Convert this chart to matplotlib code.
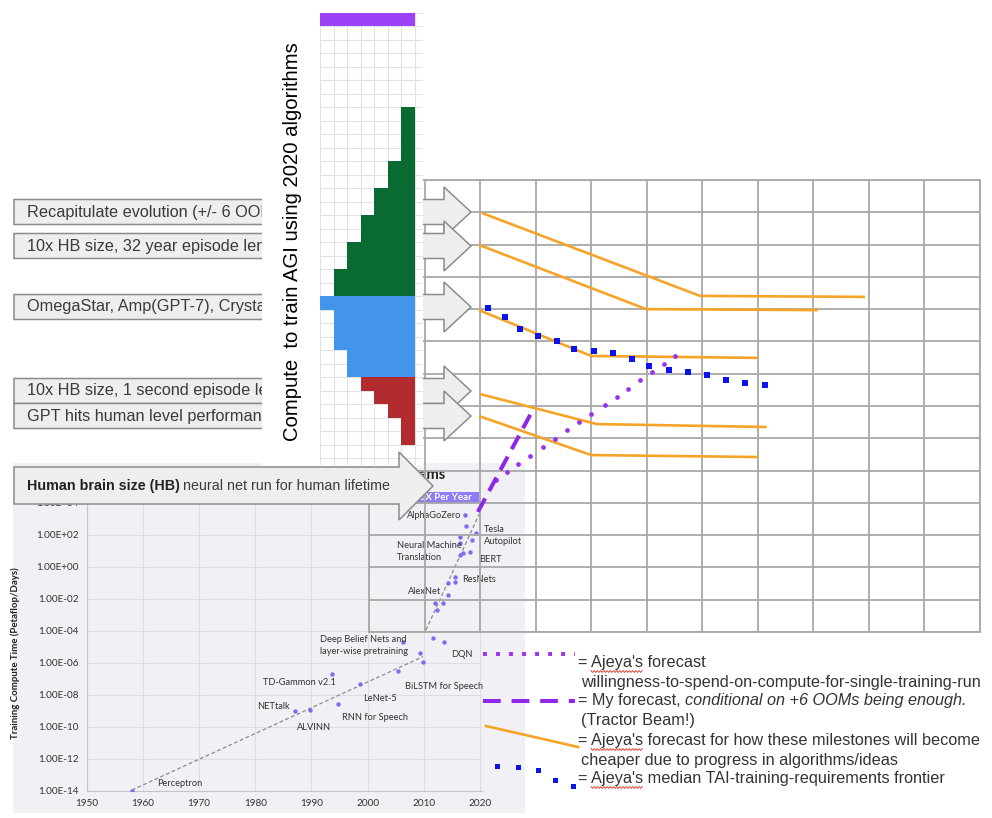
import numpy as np
import matplotlib.pyplot as plt
from matplotlib.patches import Polygon, Rectangle
from matplotlib.ticker import FuncFormatter

plt.rcParams['font.family'] = 'Liberation Sans'

W, H = 992, 818

# milestones (grey block arrows on the left)
milestones = ['Recapitulate evolution (+/- 6 OOMs)',
              '10x HB size, 32 year episode length',
              'OmegaStar, Amp(GPT-7), Crystal Nights',
              '10x HB size, 1 second episode length',
              'GPT hits human level performance']

# histogram "compute to train AGI", bar length in cells for each row of a band
hist_purple = [7]
hist_green = [1, 1, 1, 1, 2, 2, 3, 3, 4, 4, 5, 5, 6, 6]
hist_blue = [7, 6, 6, 6, 5, 5]
hist_red = [4, 3, 2, 1, 1]
hist_first_row = [0, 7, 21, 27]

# AI and compute chart: year, log10(petaflop/s-days)
ai_year = [1958, 1987, 1989.7, 1993.7, 1994.8, 1998.6, 2005.4, 2006.3, 2009.3,
           2009.9, 2011.6, 2013.6, 2012.3, 2012.0, 2013.4, 2014.3, 2014.3,
           2015.5, 2015.5, 2016.4, 2016.4, 2018.6, 2016.4, 2017.1, 2018.3,
           2017.4, 2017.5, 2019.4]
ai_log10 = [-14, -9.0, -8.96, -6.71, -8.58, -7.31, -6.48, -4.69, -5.40,
            -5.92, -4.44, -4.69, -2.69, -2.25, -2.25, -1.75, -1.0,
            -0.63, -0.94, 1.87, 1.5, 1.69, 0.75, 0.88, 0.96,
            3.25, 2.56, 2.14]
trend1_year = [1958, 2009.9]
trend1_log10 = [-13.94, -5.6]
trend2_year = [2010.4, 2019.9]
trend2_log10 = [-3.94, 3.3]
ai_notes = [('Perceptron', 1962.5, -13.56, 'left'),
            ('NETtalk', 1986.1, -8.73, 'right'),
            ('ALVINN', 1990.5, -10.04, 'center'),
            ('RNN for Speech', 1995.4, -9.38, 'left'),
            ('LeNet-5', 1999.2, -8.23, 'left'),
            ('TD-Gammon v2.1', 1981.4, -7.21, 'left'),
            ('BiLSTM for Speech', 2006.7, -7.44, 'left'),
            ('Deep Belief Nets and', 1991.6, -4.52, 'left'),
            ('layer-wise pretraining', 1991.6, -5.27, 'left'),
            ('DQN', 2014.9, -5.44, 'left'),
            ('AlexNet', 2007.2, -1.54, 'left'),
            ('ResNets', 2016.8, -0.77, 'left'),
            ('Neural Machine', 2005.2, 1.33, 'left'),
            ('Translation', 2005.2, 0.58, 'left'),
            ('BERT', 2019.9, 0.48, 'left'),
            ('Tesla', 2020.7, 2.35, 'left'),
            ('Autopilot', 2020.7, 1.58, 'left'),
            ('AlphaGoZero', 2016.7, 3.25, 'right')]

# forecast grid (cells: column, row from top)
orange_x = [[2.03, 5.96, 8.93], [1.98, 4.99, 8.08], [1.98, 4.00, 7.00],
            [2.00, 4.10, 7.16], [1.98, 4.00, 7.00]]
orange_y = [[1.02, 3.59, 3.62], [2.01, 4.00, 4.03], [4.03, 5.45, 5.51],
            [6.63, 7.56, 7.65], [7.31, 8.52, 8.58]]
frontier_x = [2.14, 2.45, 2.72, 3.04, 3.38, 3.69, 4.05, 4.39, 4.73, 5.04,
              5.40, 5.74, 6.08, 6.43, 6.77, 7.13]
frontier_y = [3.96, 4.24, 4.61, 4.83, 4.99, 5.23, 5.30, 5.36, 5.54, 5.76,
              5.88, 5.95, 6.04, 6.19, 6.29, 6.35]
spend_x = [2.29, 2.48, 2.68, 2.90, 3.13, 3.35, 3.56, 3.78, 4.00, 4.25,
           4.46, 4.66, 4.88, 5.09, 5.31, 5.51]
spend_y = [9.29, 9.04, 8.80, 8.55, 8.27, 8.02, 7.74, 7.49, 7.25, 6.97,
           6.72, 6.47, 6.19, 5.95, 5.70, 5.45]
mine_x = [1.96, 2.97]
mine_y = [10.28, 7.06]

legend_lines = ["= Ajeya's forecast",
                'willingness-to-spend-on-compute-for-single-training-run',
                '= My forecast,',
                '(Tractor Beam!)',
                "= Ajeya's forecast for how these milestones will become",
                'cheaper due to progress in algorithms/ideas',
                "= Ajeya's median TAI-training-requirements frontier"]

PURPLE = '#9a30f0'
ORANGE = '#f6a428'
BLUE = '#0a14ea'

fig = plt.figure(figsize=(W / 100, H / 100), dpi=100)
fig.patch.set_facecolor('white')


def px_axes(x0, y0, x1, y1, z):
    ax = fig.add_axes([x0 / W, 1 - y1 / H, (x1 - x0) / W, (y1 - y0) / H])
    ax.set_zorder(z)
    return ax


def overlay(z, x1=W):
    ax = px_axes(0, 0, x1, H, z)
    ax.set_xlim(0, x1)
    ax.set_ylim(H, 0)
    ax.axis('off')
    return ax


# ---- base: background panel of the compute chart ----
ax_base = overlay(0)
ax_base.add_patch(Rectangle((13, 463), 512, 350, color='#f1f1f5', lw=0))
ax_base.text(446, 475, 'Systems', ha='right', va='center',
             fontsize=10.5, fontweight='bold', family='Lato', color='#222')
ax_base.add_patch(Rectangle((403, 492), 76, 11, color='#8e7df5', lw=0))
ax_base.text(443, 497.5, '10X Per Year', ha='center', va='center', fontsize=7,
             fontweight='bold', family='Lato', color='white')

# ---- AI and compute scatter ----
ax_sc = px_axes(87, 503, 482, 791, 1)
ax_sc.set_facecolor('none')
ax_sc.set_yscale('log')
ax_sc.set_xlim(1950, 2020.4)
ax_sc.set_ylim(1e-14, 1e4)
ax_sc.set_xticks(range(1950, 2021, 10))
ax_sc.set_yticks([10.0 ** k for k in range(-14, 5, 2)])
ax_sc.minorticks_off()
ax_sc.yaxis.set_major_formatter(FuncFormatter(lambda v, p: f'{v:.2E}'))
ax_sc.grid(color='#dcdce3', lw=0.8)
ax_sc.set_axisbelow(True)
ax_sc.tick_params(length=0, labelsize=7.2, colors='#333', pad=6)
for lab in ax_sc.get_xticklabels() + ax_sc.get_yticklabels():
    lab.set_family('Lato')
for s in ['top', 'right']:
    ax_sc.spines[s].set_visible(False)
for s in ['left', 'bottom']:
    ax_sc.spines[s].set_color('#c4c4cc')
ax_sc.set_ylabel('Training Compute Time (Petaflop/Days)', fontsize=6.9,
                 fontweight='bold', family='Lato', color='#222')
ax_sc.yaxis.set_label_coords(-0.17, 0.48)
ax_sc.plot(trend1_year, 10.0 ** np.array(trend1_log10), color='#8a8a8a', lw=0.9,
           ls=(0, (3, 2)))
ax_sc.plot(trend2_year, 10.0 ** np.array(trend2_log10), color='#8a8a8a', lw=0.9,
           ls=(0, (3, 2)))
ax_sc.scatter(ai_year, 10.0 ** np.array(ai_log10), s=10, color='#7b6cf2', lw=0, zorder=3)
for name, yr, lg, ha in ai_notes:
    ax_sc.text(yr, 10.0 ** lg, name, ha=ha, va='center', fontsize=6.7,
               family='Lato', color='#333')

# ---- forecast grid ----
ax_g = px_axes(369, 180, 980, 632, 2)
ax_g.set_facecolor('none')
ax_g.set_xlim(0, 11)
ax_g.set_ylim(14, 0)
ax_g.set_xticks(range(12))
ax_g.set_yticks(range(15))
ax_g.tick_params(length=0, labelbottom=False, labelleft=False)
ax_g.grid(color='#a8a8a8', lw=1.3)
for s in ax_g.spines.values():
    s.set_color('#a8a8a8')
    s.set_linewidth(1.3)
for xs, ys in zip(orange_x, orange_y):
    ax_g.plot(xs, ys, color=ORANGE, lw=1.9, solid_capstyle='butt')
ax_g.plot(frontier_x, frontier_y, 's', ms=3.8, color=BLUE, mew=0)
ax_g.plot(spend_x, spend_y, 'o', ms=3.4, color=PURPLE, mew=0, clip_on=False)
ax_g.plot(mine_x, mine_y, color='#8f26ea', lw=2.9, ls=(0, (3.8, 2.1)),
          dash_capstyle='butt', clip_on=False)

# ---- milestone block arrows ----
ax_arr = overlay(3)
arrow_cy = [212, 246, 307, 391, 416]
for cy in arrow_cy:
    ax_arr.add_patch(Polygon([(14, cy - 12.5), (444, cy - 12.5), (444, cy - 25),
                              (471, cy), (444, cy + 25), (444, cy + 12.5),
                              (14, cy + 12.5)], closed=True, fc='#eeeeee',
                             ec='#8c8c8c', lw=1.1))
ax_txt = overlay(3.5, 262)
for cy, name in zip(arrow_cy, milestones):
    ax_txt.text(27, cy, name, va='center', fontsize=11.7, color='#3a3a3a', clip_on=True)

# ---- histogram panel ----
ax_hbg = overlay(4)
ax_hbg.add_patch(Rectangle((262, 0), 161, 466, color='white', lw=0))
ax_hbg.text(292, 242, 'Compute  to train AGI using 2020 algorithms', rotation=90,
            ha='center', va='center', fontsize=14.6, color='black')

ax_h = px_axes(320, 13, 423, 465, 4.5)
ax_h.set_facecolor('none')
ax_h.set_xlim(0, 7.6)
ax_h.set_ylim(33.5, 0)
ax_h.set_xticks(range(8))
ax_h.set_yticks(range(34))
ax_h.tick_params(length=0, labelbottom=False, labelleft=False)
ax_h.grid(color='#e2e2e2', lw=0.8)
ax_h.set_axisbelow(True)
for s in ax_h.spines.values():
    s.set_visible(False)
bands = [hist_purple, hist_green, hist_blue, hist_red]
band_colors = ['#9b42f6', '#096b31', '#4394eb', '#b12b2f']
for lens, first, col in zip(bands, hist_first_row, band_colors):
    rows = np.arange(len(lens)) + first + 0.5
    ax_h.barh(rows, lens, left=7 - np.array(lens), height=1.0, color=col, lw=0)

# ---- top layer: HB arrow and legend ----
ax_top = overlay(5)
ax_top.add_patch(Polygon([(14, 467), (399, 467), (399, 452), (433, 486), (399, 520),
                          (399, 504), (14, 504)], closed=True, fc='#eeeeee',
                         ec='#8c8c8c', lw=1.1))
rend = fig.canvas.get_renderer()
t_b = ax_top.text(27, 486, 'Human brain size (HB)', va='center', fontsize=10.3,
                  fontweight='bold', color='#222')
xb = t_b.get_window_extent(rend).x1
ax_top.text(xb + 3.5, 486, 'neural net run for human lifetime', va='center',
            fontsize=10.3, color='#3a3a3a')

# legend samples
ax_top.plot([483, 575], [654, 654], color=PURPLE, lw=2.8, ls=(0, (1, 2.35)),
            dash_capstyle='butt')
ax_top.plot([483, 575], [701, 701], color='#8f26ea', lw=2.9, ls=(0, (4.4, 2.7)),
            dash_capstyle='butt')
ax_top.plot([486, 578], [726, 747], color=ORANGE, lw=1.9)
ax_top.plot([497, 518, 538, 555, 573], [766, 767, 770, 780, 786], 's', ms=3.6,
            color=BLUE, mew=0)

leg_font = dict(fontsize=11.7, color='#333', va='center')
leg_y = [663, 682, 701, 721, 741, 760, 779]
for txt, y in zip(legend_lines, leg_y):
    x = 578 if txt.startswith('=') else 581
    t = ax_top.text(x, y, txt, **leg_font)
    if txt.startswith('= My'):
        xe = t.get_window_extent(rend).x1
        ax_top.text(xe + 4, y, 'conditional on +6 OOMs being enough.',
                    style='italic', **leg_font)
    if "Ajeya's" in txt:
        m1 = ax_top.text(0, 0, "= Ajeya's", fontsize=11.7)
        m2 = ax_top.text(0, 0, "Ajeya's", fontsize=11.7)
        w_all = m1.get_window_extent(rend).width
        w_word = m2.get_window_extent(rend).width
        m1.remove()
        m2.remove()
        x0 = x + w_all - w_word
        sx = np.arange(x0, x0 + w_word, 1.6)
        sy = y + 8.5 + np.where(np.arange(len(sx)) % 2 == 0, -0.9, 0.9)
        ax_top.plot(sx, sy, color='#e0443a', lw=0.7)

fig.savefig('out.png', dpi=100)
